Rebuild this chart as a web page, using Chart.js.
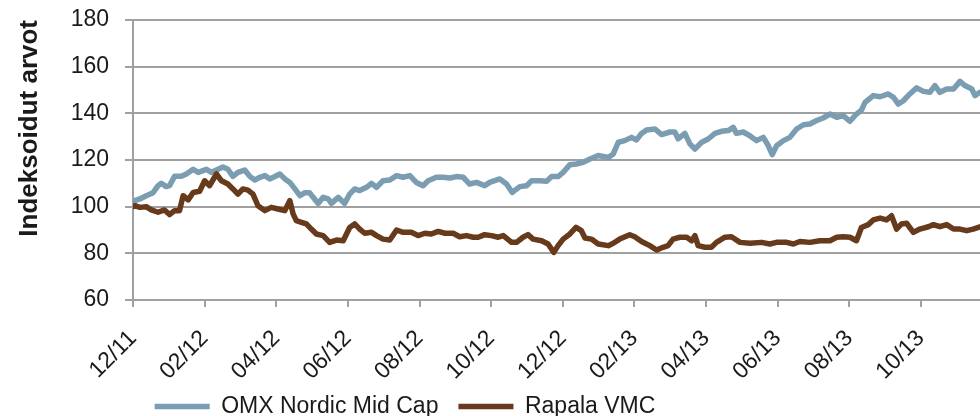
<!DOCTYPE html>
<html>
<head>
<meta charset="utf-8">
<script src="https://cdn.jsdelivr.net/npm/chart.js@4"></script>
<style>
  body { margin: 0; background: #fff; }
  #wrap { width: 980px; height: 416px; position: relative; }
</style>
</head>
<body>
<div id="wrap"><canvas id="kuvaaja"></canvas></div>
<script>
// x-akseli: kuukausia joulukuusta 2011 alkaen
const tickLabels = ['12/11', '02/12', '04/12', '06/12', '08/12', '10/12',
  '12/12', '02/13', '04/13', '06/13', '08/13', '10/13'];

const omxMonths = [0, 0.05, 0.19, 0.37, 0.56, 0.70, 0.79, 0.93, 1.02, 1.16, 1.35, 1.49, 1.68, 1.82, 2.05, 2.19, 2.33, 2.51, 2.65, 2.79, 2.93, 3.12, 3.26, 3.40, 3.54, 3.68, 3.82, 3.96, 4.10, 4.24, 4.38, 4.52, 4.66, 4.80, 4.93, 5.03, 5.17, 5.31, 5.45, 5.54, 5.73, 5.91, 6.05, 6.19, 6.33, 6.52, 6.66, 6.80, 6.98, 7.17, 7.36, 7.54, 7.73, 7.91, 8.10, 8.24, 8.47, 8.66, 8.85, 9.03, 9.22, 9.40, 9.59, 9.82, 9.96, 10.24, 10.43, 10.59, 10.80, 10.99, 11.13, 11.36, 11.55, 11.69, 11.87, 12.01, 12.20, 12.38, 12.57, 12.76, 12.99, 13.27, 13.41, 13.55, 13.73, 13.92, 14.06, 14.20, 14.34, 14.57, 14.76, 14.99, 15.13, 15.22, 15.41, 15.55, 15.69, 15.88, 16.06, 16.25, 16.43, 16.62, 16.76, 16.85, 17.04, 17.23, 17.41, 17.60, 17.74, 17.85, 17.97, 18.16, 18.34, 18.53, 18.72, 18.90, 19.09, 19.27, 19.46, 19.65, 19.83, 20.02, 20.20, 20.34, 20.44, 20.67, 20.86, 21.09, 21.23, 21.37, 21.51, 21.69, 21.88, 22.07, 22.25, 22.39, 22.53, 22.72, 22.91, 23.09, 23.23, 23.42, 23.51, 23.65];
const omxValues = [100, 102.6, 103.3, 104.7, 106, 109, 110, 108.6, 109, 113, 113, 114, 116, 114.7, 116, 114.7, 115.7, 117, 116, 113, 114.7, 115.7, 113, 111.4, 112.6, 113.3, 111.9, 112.9, 114, 111.9, 110.4, 107.6, 104.7, 106, 106, 104, 101.4, 104, 103.3, 101.4, 104, 101.4, 105.4, 107.6, 106.9, 108.3, 110, 108.3, 111.1, 111.4, 113.3, 112.6, 113.3, 110.4, 109, 111.1, 112.6, 112.6, 112.3, 112.9, 112.6, 109.7, 110.4, 109, 110.4, 111.9, 109.7, 106.1, 108.6, 109, 111.1, 111.1, 110.9, 112.9, 112.9, 114.7, 118, 118.3, 119, 120.4, 121.9, 121.1, 122.6, 127.6, 128.3, 129.7, 128.6, 131.4, 132.9, 133.3, 130.9, 132, 132, 129.1, 131.4, 126.9, 124.7, 127.6, 129, 131.4, 132.3, 132.6, 134, 131.4, 132, 130.3, 128.3, 129.7, 126.1, 122.3, 126.1, 128.3, 129.7, 133.3, 135.1, 135.4, 136.9, 138, 139.7, 138.3, 139, 136.6, 139.7, 141.4, 144.7, 147.6, 147.1, 148.3, 146.9, 144, 145.4, 148.3, 150.9, 149.4, 149, 151.9, 149, 150.4, 150.4, 153.7, 151.9, 150.4, 147.6, 149];

const rapalaMonths = [0, 0.05, 0.19, 0.37, 0.51, 0.70, 0.88, 1.02, 1.16, 1.30, 1.40, 1.54, 1.68, 1.86, 2.00, 2.14, 2.33, 2.47, 2.65, 2.79, 2.93, 3.07, 3.21, 3.35, 3.49, 3.68, 3.86, 4.05, 4.24, 4.38, 4.47, 4.56, 4.70, 4.84, 4.98, 5.12, 5.31, 5.49, 5.68, 5.87, 6.05, 6.19, 6.33, 6.47, 6.66, 6.80, 6.98, 7.17, 7.36, 7.54, 7.77, 7.96, 8.15, 8.33, 8.52, 8.71, 8.94, 9.12, 9.31, 9.50, 9.64, 9.82, 10.01, 10.20, 10.34, 10.57, 10.71, 10.89, 11.03, 11.17, 11.41, 11.59, 11.75, 11.87, 12.01, 12.20, 12.37, 12.52, 12.62, 12.80, 12.99, 13.27, 13.41, 13.59, 13.87, 14.01, 14.20, 14.43, 14.62, 14.80, 14.94, 15.08, 15.27, 15.46, 15.60, 15.69, 15.78, 15.97, 16.15, 16.29, 16.53, 16.71, 16.95, 17.23, 17.55, 17.78, 17.97, 18.25, 18.44, 18.62, 18.90, 19.18, 19.46, 19.65, 19.83, 20.02, 20.20, 20.34, 20.53, 20.67, 20.86, 21.04, 21.18, 21.32, 21.46, 21.60, 21.79, 21.97, 22.21, 22.35, 22.53, 22.72, 22.91, 23.09, 23.28, 23.46, 23.65];
const rapalaValues = [100, 100.4, 99.7, 100, 98.6, 97.6, 98.6, 96.6, 98.3, 98.3, 104.7, 102.9, 106.1, 106.6, 111.1, 109, 114, 111.1, 109.7, 107.6, 105.4, 107.6, 107.1, 105.4, 100.4, 98.3, 99.7, 99, 98.3, 102.6, 96.9, 94, 93.3, 92.6, 90.4, 88.3, 87.6, 84.7, 85.7, 85.4, 91.1, 92.6, 90.4, 88.6, 89, 87.6, 86.1, 85.7, 90, 89, 89, 87.6, 88.6, 88.3, 89.4, 88.6, 88.6, 87.1, 87.6, 86.9, 86.9, 88, 87.6, 86.9, 87.6, 84.7, 84.7, 86.9, 88, 86.1, 85.4, 84, 80.4, 83.3, 86.1, 88.3, 91.1, 89.7, 86.6, 86.1, 84, 83.3, 84.3, 86.1, 88, 87.1, 85.1, 83.3, 81.4, 82.6, 83.3, 86.1, 86.9, 86.9, 85.4, 87.6, 83.3, 82.6, 82.6, 84.7, 86.9, 87.1, 84.7, 84.3, 84.7, 84, 84.7, 84.7, 84, 85.1, 84.7, 85.4, 85.4, 86.9, 87.1, 86.9, 85.4, 91.1, 92.3, 94.3, 95.1, 94.3, 96.1, 90.4, 92.6, 92.9, 89, 90.4, 91.4, 92.3, 91.4, 92.3, 90.4, 90.4, 89.7, 90.4, 91.4];

const pisteet = (xs, ys) => xs.map((x, i) => ({ x: x, y: ys[i] }));

const harmaa = '#a0a0a0';
const teksti = '#1a1a1a';
const fontti = '"Liberation Sans", Arial, sans-serif';

// siirretaan selite samaan kohtaan kuin alkuperaisessa,
// ja annetaan x-akselin tekstien jatkua selitteen alle
const asettelu = {
  id: 'asettelu',
  afterLayout(chart) {
    const l = chart.legend;
    l.left -= 85; l.right -= 85;
    l.top += 12; l.bottom += 12;
    chart.scales.x.bottom = chart.height;
  }
};

new Chart(document.getElementById('kuvaaja'), {
  type: 'line',
  data: {
    datasets: [{
      label: 'Rapala VMC',
      data: pisteet(rapalaMonths, rapalaValues),
      borderColor: '#673a1b',
      backgroundColor: '#673a1b',
      borderWidth: 5.5,
      borderCapStyle: 'round',
      borderJoinStyle: 'round',
      pointRadius: 0,
      tension: 0
    }, {
      label: 'OMX Nordic Mid Cap',
      data: pisteet(omxMonths, omxValues),
      borderColor: '#7a9db2',
      backgroundColor: '#7a9db2',
      borderWidth: 5.5,
      borderCapStyle: 'round',
      borderJoinStyle: 'round',
      pointRadius: 0,
      tension: 0
    }]
  },
  options: {
    responsive: true,
    maintainAspectRatio: false,
    animation: false,
    layout: { padding: { top: 20, right: 0, left: 0, bottom: 0 } },
    plugins: {
      tooltip: { enabled: false },
      legend: {
        position: 'bottom',
        reverse: true,
        labels: {
          usePointStyle: true,
          pointStyle: 'line',
          pointStyleWidth: 55,
          padding: 20,
          color: teksti,
          font: { family: fontti, size: 23 }
        }
      }
    },
    scales: {
      x: {
        type: 'linear',
        min: 0,
        max: 23.65,
        afterBuildTicks: s => { s.ticks = s.ticks.filter(t => t.value % 2 === 0 && t.value <= 22); },
        afterFit: s => { s.height = 63; },
        grid: { drawOnChartArea: false, color: harmaa, lineWidth: 2, tickLength: 7 },
        border: { color: harmaa, width: 2 },
        ticks: {
          stepSize: 2,
          autoSkip: false,
          minRotation: 45,
          maxRotation: 45,
          padding: 18,
          color: teksti,
          font: { family: fontti, size: 23 },
          callback: v => tickLabels[v / 2]
        }
      },
      y: {
        min: 60,
        max: 180,
        afterFit: s => { s.width = 133; s.paddingTop = 0; s.paddingBottom = 0; },
        grid: { color: harmaa, lineWidth: 2, tickLength: 8 },
        border: { color: harmaa, width: 2 },
        ticks: {
          stepSize: 20,
          padding: 16,
          color: teksti,
          font: { family: fontti, size: 23 }
        },
        title: {
          display: true,
          text: 'Indeksoidut arvot',
          align: 'end',
          color: teksti,
          padding: { top: 14, bottom: 0 },
          font: { family: fontti, size: 26, weight: 'bold' }
        }
      }
    }
  },
  plugins: [asettelu]
});
</script>
</body>
</html>
